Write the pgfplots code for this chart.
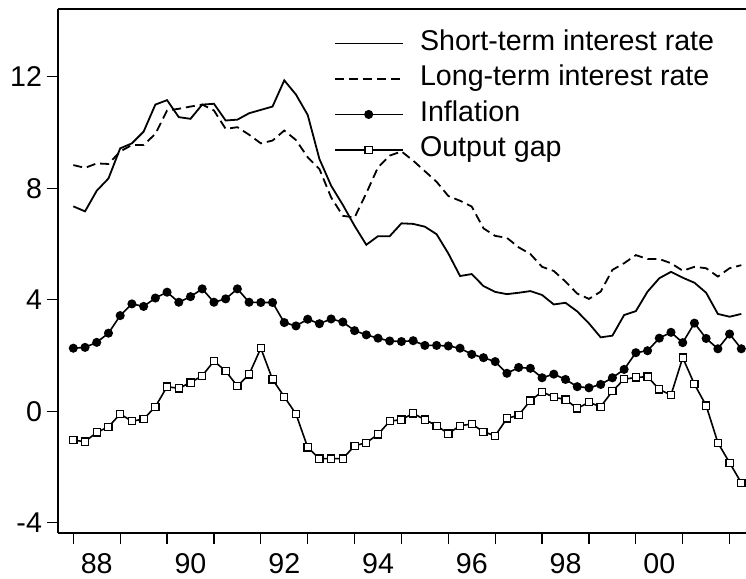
\documentclass[border=0pt]{standalone}
\usepackage{pgfplots}
\usepackage{pgfplotstable}
\pgfplotsset{compat=1.18}
\usepackage{fontspec}
\setmainfont{Liberation Sans}

\pgfplotstableread{
x s l inf gap
1988.00 7.35 8.83 2.26 -1.04
1988.25 7.17 8.73 2.29 -1.09
1988.50 7.91 8.89 2.47 -0.76
1988.75 8.35 8.87 2.80 -0.56
1989.00 9.43 9.32 3.43 -0.10
1989.25 9.61 9.55 3.85 -0.36
1989.50 10.03 9.55 3.76 -0.28
1989.75 11.00 9.95 4.06 0.16
1990.00 11.16 10.79 4.27 0.88
1990.25 10.55 10.85 3.91 0.82
1990.50 10.49 10.93 4.11 1.03
1990.75 11.00 11.00 4.39 1.27
1991.00 11.03 10.79 3.91 1.80
1991.25 10.43 10.13 4.03 1.44
1991.50 10.46 10.19 4.39 0.90
1991.75 10.69 9.92 3.91 1.32
1992.00 10.81 9.61 3.90 2.26
1992.25 10.93 9.71 3.90 1.14
1992.50 11.87 10.07 3.18 0.52
1992.75 11.36 9.73 3.06 -0.10
1993.00 10.63 9.11 3.30 -1.30
1993.25 9.05 8.69 3.14 -1.70
1993.50 8.09 7.67 3.31 -1.70
1993.75 7.40 7.01 3.20 -1.70
1994.00 6.65 6.95 2.89 -1.24
1994.25 5.97 7.82 2.74 -1.13
1994.50 6.28 8.75 2.62 -0.83
1994.75 6.28 9.17 2.52 -0.36
1995.00 6.74 9.32 2.50 -0.30
1995.25 6.72 8.99 2.53 -0.08
1995.50 6.62 8.61 2.36 -0.30
1995.75 6.35 8.23 2.36 -0.52
1996.00 5.66 7.72 2.34 -0.80
1996.25 4.85 7.55 2.26 -0.52
1996.50 4.92 7.34 2.04 -0.46
1996.75 4.49 6.56 1.92 -0.74
1997.00 4.28 6.29 1.78 -0.88
1997.25 4.20 6.22 1.36 -0.26
1997.50 4.25 5.88 1.57 -0.14
1997.75 4.31 5.64 1.54 0.38
1998.00 4.17 5.18 1.20 0.70
1998.25 3.83 5.03 1.33 0.50
1998.50 3.89 4.65 1.14 0.42
1998.75 3.58 4.22 0.88 0.10
1999.00 3.15 4.03 0.84 0.32
1999.25 2.65 4.29 0.96 0.16
1999.50 2.71 5.07 1.20 0.72
1999.75 3.45 5.31 1.50 1.15
2000.00 3.59 5.60 2.10 1.21
2000.25 4.29 5.46 2.17 1.24
2000.50 4.77 5.46 2.62 0.78
2000.75 5.00 5.31 2.83 0.58
2001.00 4.79 5.04 2.46 1.92
2001.25 4.61 5.18 3.16 0.97
2001.50 4.25 5.13 2.61 0.20
2001.75 3.49 4.83 2.24 -1.13
2002.00 3.39 5.13 2.77 -1.85
2002.25 3.49 5.24 2.24 -2.57
}\datatable

\begin{document}
\begin{tikzpicture}
\useasboundingbox (-28.85pt,-22.85pt) rectangle (344.15pt,266.65pt);
\begin{axis}[
  name=ax,
  at={(0,0)}, anchor=south west,
  scale only axis, width=344.15pt, height=262.15pt,
  xmin=1987.667, xmax=2002.35,
  ymin=-4.38, ymax=14.43,
  axis x line*=bottom, axis y line*=left,
  axis line style={line width=1.1pt},
  tick align=outside,
  xtick={1988,1989,...,2002}, xticklabels={},
  minor x tick num=3,
  major tick length=5.5pt, minor tick length=3.5pt,
  every tick/.style={black, line width=0.6pt},
  ytick={-4,0,4,8,12},
  /pgf/number format/assume math mode=true,
  ticklabel style={font=\fontsize{14.3}{17}\selectfont},
  yticklabel style={inner sep=0pt, xshift=-2.2pt},
  extra x ticks={1988.5,1990.5,1992.5,1994.5,1996.5,1998.5,2000.5},
  extra x tick labels={88,90,92,94,96,98,00},
  extra x tick style={major tick length=0pt, xticklabel style={inner sep=0pt, yshift=-9.7pt}},
  legend style={draw=none, fill=none, at={(0.4014,0.961)}, anchor=north west,
    inner sep=0pt, outer sep=0pt, row sep=3.75pt, column sep=8.3pt,
    font=\fontsize{14.3}{17}\selectfont,
    nodes={inner sep=0pt, text height=10.5pt, text depth=3.5pt}},
  legend cell align=left,
  legend image code/.code={\draw[mark repeat=2,mark phase=2,#1] plot coordinates {(0pt,0pt) (16.9pt,0pt) (33.85pt,0pt)};},
]
\addplot[black, line width=0.9pt] table[x=x,y=s] {\datatable};
\addlegendentry{Short-term interest rate}
\addplot[black, line width=0.9pt, dash pattern=on 4.5pt off 2.5pt] table[x=x,y=l] {\datatable};
\addlegendentry{Long-term interest rate}
\addplot[black, line width=0.8pt, mark=*, mark size=1.85pt, mark options={solid, fill=black}] table[x=x,y=inf] {\datatable};
\addlegendentry{Inflation}
\addplot[black, line width=0.8pt, mark=square*, mark size=1.8pt, mark options={solid, fill=white, line width=0.6pt}] table[x=x,y=gap] {\datatable};
\addlegendentry{Output gap}
\end{axis}
\draw[line width=1.1pt] (ax.north west) -- (ax.north east);
\end{tikzpicture}
\end{document}
